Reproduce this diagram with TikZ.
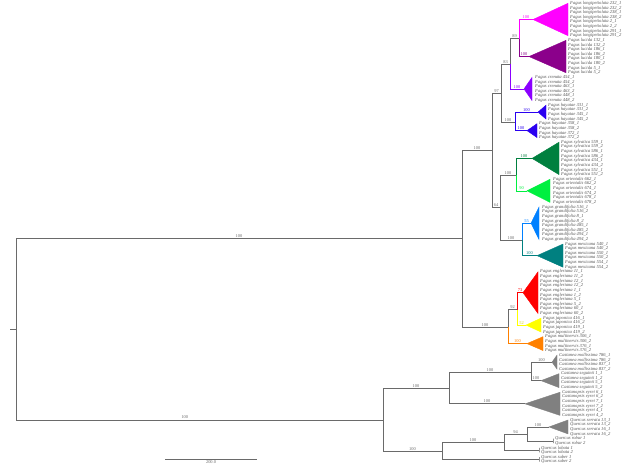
\documentclass[tikz,border=0pt]{standalone}
\usepackage{fontspec}
\setmainfont{Liberation Serif}
\definecolor{branch}{HTML}{6A6A6A}
\definecolor{tipgray}{HTML}{555555}
\definecolor{cLongi}{HTML}{FF00FF}
\definecolor{cLuc}{HTML}{8B008B}
\definecolor{cCren}{HTML}{8B00FF}
\definecolor{cHay}{HTML}{2A00F0}
\definecolor{cSyl}{HTML}{00803F}
\definecolor{cOri}{HTML}{00F040}
\definecolor{cGra}{HTML}{0080FF}
\definecolor{cMex}{HTML}{008080}
\definecolor{cEng}{HTML}{FF0000}
\definecolor{cJap}{HTML}{FFFF00}
\definecolor{cMul}{HTML}{FF8000}
\definecolor{cOut}{HTML}{808080}

% collapsed clade: name, apex x, right x, first tip, last tip, colour
\newcommand\cartoon[6]{%
  \coordinate (#1) at (#2,{3.3+4.63*(#4+#5)/2});
  \filldraw[#6,line width=0.4pt] (#1) -- (#3,{3.3+4.63*#4}) -- (#3,{3.3+4.63*#5}) -- cycle;}
% tip labels: x, first tip, taxon, suffixes
\newcommand\taxa[4]{%
  \foreach \s [count=\k from #2] in {#4}
    \node[tip] (tip\k) at (#1,{3.3+4.63*\k}) {#3 \s};}

\begin{document}
\begin{tikzpicture}[x=1pt,y=-1pt,
  br/.style={draw=branch,line width=0.6pt},
  bs/.style={above,pos=.75,inner sep=0.6pt,font=\fontsize{4.4}{5}\selectfont,text=branch},
  tip/.style={anchor=west,inner sep=0pt,font=\fontsize{4.6}{5}\selectfont\itshape,text=tipgray}]
\useasboundingbox[fill=white] (0,0) rectangle (639,470);

% internal nodes
\coordinate (stub) at (10,329.3);
\coordinate (root) at (16,329.3);
\coordinate (fagus) at (462,238.7);
\coordinate (nA) at (492,150.4);
\coordinate (n97) at (501,93.1);
\coordinate (n83) at (510,64.2);
\coordinate (n89) at (519,38.7);
\coordinate (nhay) at (515,122.0);
\coordinate (n64) at (500,207.7);
\coordinate (nsyl) at (516,175.3);
\coordinate (nam) at (522,240.1);
\coordinate (nC) at (508,327.0);
\coordinate (n92) at (517,309.6);
\coordinate (outg) at (383,419.8);
\coordinate (ncast) at (449,388.3);
\coordinate (ncastanea) at (531,372.0);
\coordinate (nquer) at (442,451.4);
\coordinate (n94) at (504,442.7);
\coordinate (nsr) at (527,434.6);

% collapsed clades
\cartoon{longi}{533}{568}{0}{7}{cLongi}
\cartoon{luc}{529}{566}{8}{15}{cLuc}
\cartoon{cren}{524}{532}{16}{21}{cCren}
\cartoon{hayA}{538}{546}{22}{25}{cHay}
\cartoon{hayB}{527}{537}{26}{29}{cHay}
\cartoon{syl}{532}{559}{30}{37}{cSyl}
\cartoon{ori}{527}{550}{38}{43}{cOri}
\cartoon{gra}{531}{539}{44}{51}{cGra}
\cartoon{mex}{537}{563}{52}{57}{cMex}
\cartoon{eng}{523}{538}{58}{67}{cEng}
\cartoon{jap}{526}{541}{68}{71}{cJap}
\cartoon{mul}{527}{543}{72}{75}{cMul}
\cartoon{cmol}{552}{557}{76}{79}{cOut}
\cartoon{cseg}{541}{559}{80}{83}{cOut}
\cartoon{ceyr}{525}{560}{84}{89}{cOut}
\cartoon{qser}{549}{568}{90}{93}{cOut}
\cartoon{qrob}{553}{553}{94}{95}{branch}
\cartoon{qlob}{539}{539}{96}{97}{branch}
\cartoon{qsub}{539}{539}{98}{99}{branch}

% branches
\draw[br] (stub) -- (root);
\draw[br] (root) |- node[bs]{100} (fagus);
\draw[br] (root) |- node[bs,pos=.73]{100} (outg);
\draw[br] (fagus) |- node[bs]{100} (nA);
\draw[br] (fagus) |- node[bs]{100} (nC);
\draw[br] (nA) |- node[bs]{97} (n97);
\draw[br] (nA) |- node[bs]{64} (n64);
\draw[br] (n97) |- node[bs]{83} (n83);
\draw[br] (n97) |- node[bs]{100} (nhay);
\draw[br] (n83) |- node[bs]{89} (n89);
\draw[br,draw=cCren] (n83) |- node[bs,text=cCren]{100} (cren);
\draw[br,draw=cLongi] (n89) |- node[bs,text=cLongi]{100} (longi);
\draw[br,draw=cLuc] (n89) |- node[bs,text=cLuc]{100} (luc);
\draw[br,draw=cHay] (nhay) |- node[bs,text=cHay]{100} (hayA);
\draw[br,draw=cHay] (nhay) |- node[bs,text=cHay]{100} (hayB);
\draw[br] (n64) |- node[bs]{100} (nsyl);
\draw[br] (n64) |- node[bs]{100} (nam);
\draw[br,draw=cSyl] (nsyl) |- node[bs,text=cSyl]{100} (syl);
\draw[br,draw=cOri] (nsyl) |- node[bs,text=cOri]{90} (ori);
\draw[br,draw=cGra] (nam) |- node[bs,text=cGra]{55} (gra);
\draw[br,draw=cMex] (nam) |- node[bs,text=cMex]{100} (mex);
\draw[br] (nC) |- node[bs]{92} (n92);
\draw[br,draw=cMul] (nC) |- node[bs,text=cMul]{100} (mul);
\draw[br,draw=cEng] (n92) |- node[bs,text=cEng]{73} (eng);
\draw[br,draw=cJap] (n92) |- node[bs,text=cJap!85!black]{52} (jap);
\draw[br] (outg) |- node[bs]{100} (ncast);
\draw[br] (outg) |- node[bs]{100} (nquer);
\draw[br] (ncast) |- node[bs]{100} (ncastanea);
\draw[br] (ncast) |- node[bs]{100} (ceyr);
\draw[br] (ncastanea) |- node[bs]{100} (cmol);
\draw[br] (ncastanea) |- node[bs]{100} (cseg);
\draw[br] (nquer) |- node[bs]{100} (n94);
\draw[br] (nquer) |- (qsub);
\draw[br] (n94) |- node[bs]{94} (nsr);
\draw[br] (n94) |- (qlob);
\draw[br] (nsr) |- node[bs]{100} (qser);
\draw[br] (nsr) |- (qrob);

% tip labels
\taxa{570}{0}{Fagus longipetiolata}{232\_1,232\_2,238\_1,238\_2,2\_1,2\_2,291\_1,291\_2}
\taxa{568}{8}{Fagus lucida}{132\_1,132\_2,186\_1,186\_2,180\_1,180\_2,5\_1,5\_2}
\taxa{535}{16}{Fagus crenata}{454\_1,454\_2,463\_1,463\_2,448\_1,448\_2}
\taxa{548}{22}{Fagus hayatae}{331\_1,331\_2,345\_1,345\_2}
\taxa{539}{26}{Fagus hayatae}{358\_1,358\_2,372\_1,372\_2}
\taxa{561}{30}{Fagus sylvatica}{559\_1,559\_2,586\_1,586\_2,434\_1,434\_2,551\_1,551\_2}
\taxa{553}{38}{Fagus orientalis}{662\_1,662\_2,674\_1,674\_2,678\_1,678\_2}
\taxa{542}{44}{Fagus grandifolia}{516\_1,516\_2,8\_1,8\_2,485\_1,485\_2,494\_1,494\_2}
\taxa{565}{52}{Fagus mexicana}{540\_1,540\_2,550\_1,550\_2,554\_1,554\_2}
\taxa{540}{58}{Fagus engleriana}{11\_1,11\_2,12\_1,12\_2,1\_1,1\_2,5\_1,5\_2,60\_1,60\_2}
\taxa{543}{68}{Fagus japonica}{416\_1,416\_2,419\_1,419\_2}
\taxa{545}{72}{Fagus multinervis}{306\_1,306\_2,376\_1,376\_2}
\taxa{559}{76}{Castanea mollissima}{786\_1,786\_2,837\_1,837\_2}
\taxa{561}{80}{Castanea seguinii}{1\_1,1\_2,5\_1,5\_2}
\taxa{562}{84}{Castanopsis eyrei}{6\_1,6\_2,7\_1,7\_2,4\_1,4\_2}
\taxa{570}{90}{Quercus serrata}{13\_1,13\_2,16\_1,16\_2}
\taxa{555}{94}{Quercus robur}{1,2}
\taxa{541}{96}{Quercus lobata}{1,2}
\taxa{541}{98}{Quercus suber}{1,2}

% scale bar
\coordinate (sbL) at (165,459);
\coordinate (sbR) at (257,459);
\draw[br] (sbL) -- node[below,inner sep=1pt,font=\fontsize{4.4}{5}\selectfont,text=branch]{200.0} (sbR);
\end{tikzpicture}
\end{document}
